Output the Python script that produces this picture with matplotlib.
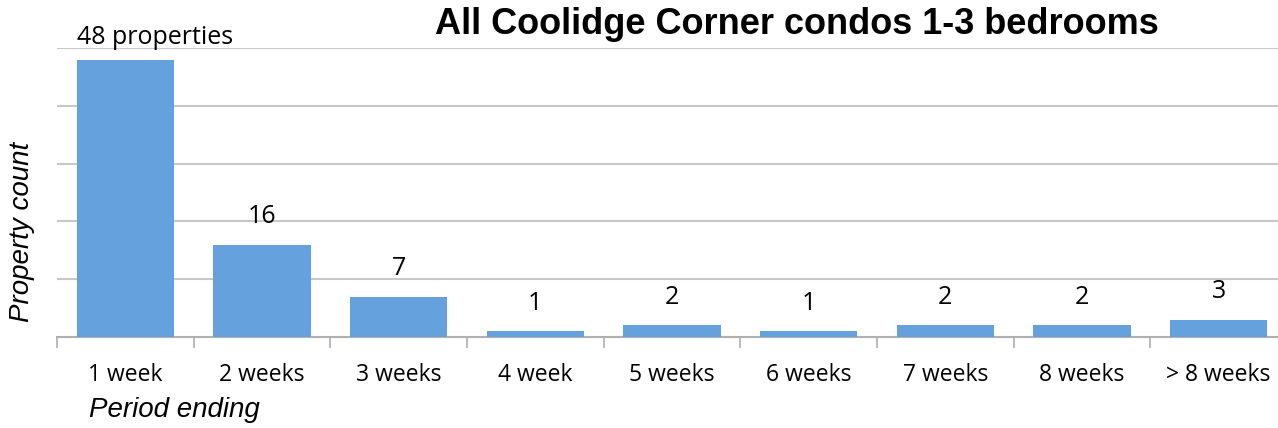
import numpy as np
import matplotlib.pyplot as plt

categories = ["1 week", "2 weeks", "3 weeks", "4 week", "5 weeks",
              "6 weeks", "7 weeks", "8 weeks", "> 8 weeks"]
counts = [48, 16, 7, 1, 2, 1, 2, 2, 3]
bar_labels = ["48 properties", "16", "7", "1", "2", "1", "2", "2", "3"]

bar_color = "#65a1dc"
grid_color = "#c8c8c8"
label_font = ["Open Sans", "DejaVu Sans"]
axis_font = ["Liberation Sans", "DejaVu Sans"]

fig = plt.figure(figsize=(12.78, 4.28), dpi=100)
ax = fig.add_axes([57 / 1278, 91 / 428, 1230 / 1278, 289 / 428])

x = np.arange(len(categories))
bars = ax.bar(x, counts, width=0.71, color=bar_color, zorder=3)

ax.set_xlim(-0.5, len(categories) - 0.5)
ax.set_ylim(0, 50)
ax.set_yticks([10, 20, 30, 40, 50])
ax.yaxis.grid(True, color=grid_color, linewidth=1.5, zorder=0)
ax.tick_params(axis="y", length=0, labelleft=False)

# category labels sit between boundary ticks
ax.set_xticks(np.arange(len(categories) + 1) - 0.5)
ax.set_xticklabels([])
ax.tick_params(axis="x", length=8, width=1.2, color="#b0b0b0", direction="out")
for xi, cat in zip(x, categories):
    ax.text(xi, -6.6, cat, ha="center", va="center", fontsize=16.5,
            family=label_font, color="black")

for s in ["top", "right", "left"]:
    ax.spines[s].set_visible(False)
ax.spines["bottom"].set_color("#b0b0b0")
ax.spines["bottom"].set_linewidth(1.5)

for i, (rect, lab) in enumerate(zip(bars, bar_labels)):
    top = rect.get_height()
    if i == 0:
        ax.text(rect.get_x(), top + 1.6, lab, ha="left", va="bottom",
                fontsize=18, family=label_font)
    else:
        ax.text(rect.get_x() + rect.get_width() / 2, top + 2.7, lab,
                ha="center", va="bottom", fontsize=18, family=label_font)

fig.text(797 / 1278, 1 - 25 / 428, "All Coolidge Corner condos 1-3 bedrooms",
         ha="center", va="center", fontsize=26, fontweight="bold",
         family=["Liberation Sans", "DejaVu Sans"])
fig.text(22 / 1278, 1 - 232 / 428, "Property count", rotation=90,
         ha="center", va="center", fontsize=20, style="italic",
         family=axis_font)
fig.text(89 / 1278, 1 - 410 / 428, "Period ending", ha="left", va="center",
         fontsize=20, style="italic", family=axis_font)

fig.savefig("out.png", dpi=100)
